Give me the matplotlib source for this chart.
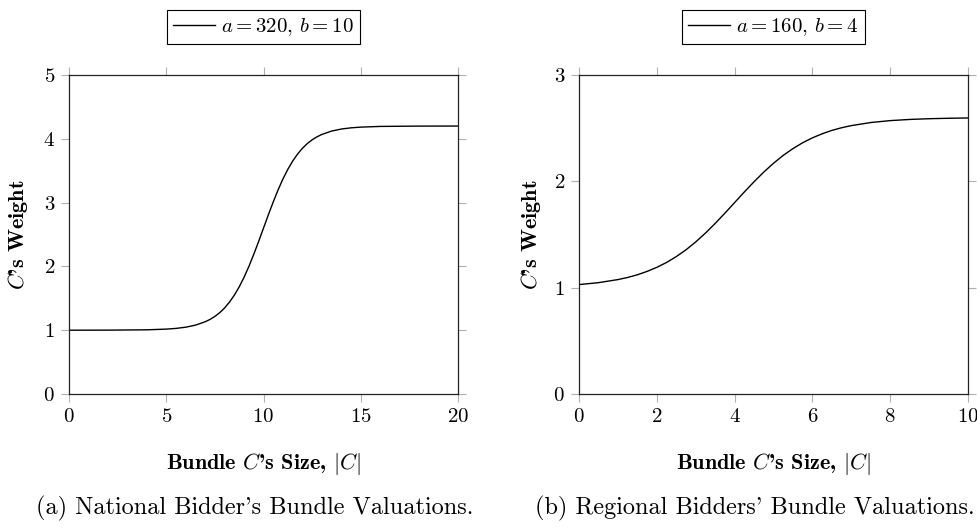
import matplotlib
matplotlib.use("Agg")
import matplotlib.pyplot as plt

plt.rcParams['font.family'] = ['cmr10', 'DejaVu Serif']
plt.rcParams['mathtext.fontset'] = 'cm'
plt.rcParams['axes.formatter.use_mathtext'] = True

# national bidder (a = 320, b = 10)
nat_x = [0, 2, 4, 5, 5.5, 6, 6.5, 7, 7.25, 7.5, 7.75, 8, 8.25, 8.5, 8.75,
         9, 9.25, 9.5, 9.75, 10, 10.25, 10.5, 10.75, 11, 11.25, 11.5, 11.75,
         12, 12.25, 12.5, 12.75, 13, 13.5, 14, 14.5, 15, 16, 18, 20]
nat_y = [1.000, 1.001, 1.006, 1.017, 1.028, 1.047, 1.079, 1.132, 1.169,
         1.216, 1.275, 1.349, 1.440, 1.549, 1.679, 1.829, 2.001, 2.190,
         2.391, 2.600, 2.809, 3.010, 3.199, 3.371, 3.521, 3.651, 3.760,
         3.851, 3.925, 3.984, 4.031, 4.068, 4.121, 4.153, 4.172, 4.183,
         4.194, 4.199, 4.200]

# regional bidders (a = 160, b = 4)
reg_x = [0, 0.5, 1, 1.25, 1.5, 1.75, 2, 2.25, 2.5, 2.75, 3, 3.25, 3.5,
         3.75, 4, 4.25, 4.5, 4.75, 5, 5.25, 5.5, 5.75, 6, 6.25, 6.5, 6.75,
         7, 7.5, 8, 8.5, 9, 9.5, 10]
reg_y = [1.029, 1.047, 1.076, 1.096, 1.121, 1.153, 1.191, 1.237, 1.292,
         1.356, 1.430, 1.513, 1.604, 1.700, 1.800, 1.900, 1.996, 2.087,
         2.170, 2.244, 2.308, 2.363, 2.409, 2.447, 2.479, 2.504, 2.524,
         2.553, 2.571, 2.582, 2.589, 2.593, 2.596]

panels = [
    (nat_x, nat_y, r'$a = 320,\, b = 10$', (0, 20), [0, 5, 10, 15, 20],
     (0, 5), [0, 1, 2, 3, 4, 5], "(a) National Bidder's Bundle Valuations."),
    (reg_x, reg_y, r'$a = 160,\, b = 4$', (0, 10), [0, 2, 4, 6, 8, 10],
     (0, 3), [0, 1, 2, 3], "(b) Regional Bidders' Bundle Valuations."),
]

W, H = 978, 529
fig = plt.figure(figsize=(W / 100, H / 100), dpi=100)
lefts = [69, 579]
ylab_x = [18, 531]
cap_x = [255, 755]

for i, (xs, ys, lab, xl, xt, yl, yt, cap) in enumerate(panels):
    ax = fig.add_axes([lefts[i] / W, 1 - 394 / H, 389 / W, 319 / H])
    ax.plot(xs, ys, color='black', lw=1.0, label=lab)
    ax.set_xlim(*xl)
    ax.set_ylim(*yl)
    ax.set_xticks(xt)
    ax.set_yticks(yt)
    ax.tick_params(direction='out', length=6, width=0.8, color='#b0b0b0',
                   labelsize=15, top=True, right=True, pad=4)
    for s in ax.spines.values():
        s.set_linewidth(0.9)
        s.set_color('#222222')
    ax.set_xlabel(r"Bundle $C$'s Size, $|C|$", fontfamily='cmb10',
                  fontsize=16, va='center')
    ax.xaxis.set_label_coords(0.5, -(464 - 394) / 319)
    ax.set_ylabel(r"$C$'s Weight", fontfamily='cmb10', fontsize=16,
                  va='center')
    ax.yaxis.set_label_coords(-(lefts[i] - ylab_x[i]) / 389, 0.5)
    leg = ax.legend(loc='lower center', bbox_to_anchor=(0.5, 1 + 31 / 319),
                    borderaxespad=0, fontsize=15, fancybox=False,
                    edgecolor='black', handlelength=2.0, handletextpad=0.3,
                    borderpad=0.3, framealpha=1)
    leg.get_frame().set_linewidth(0.8)
    fig.text(cap_x[i] / W, 1 - 508 / H, cap, ha='center', va='center',
             fontsize=17.5)

fig.savefig('out.png', dpi=100)
